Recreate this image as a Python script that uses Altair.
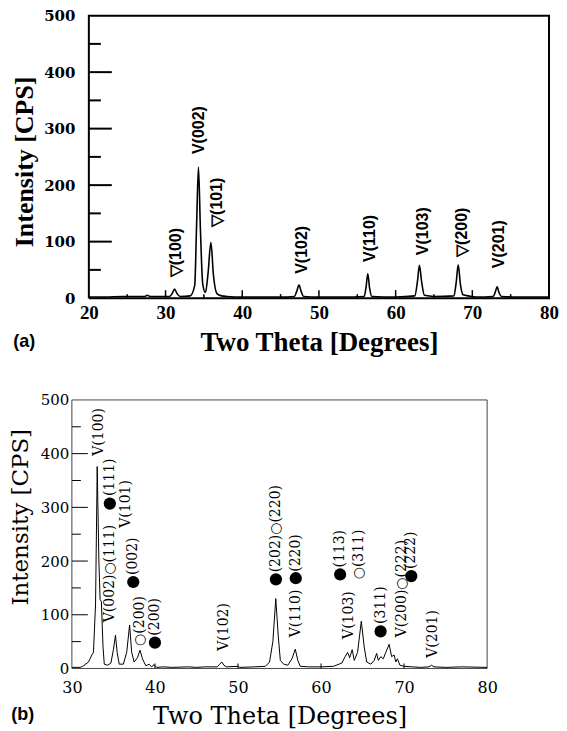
import altair as alt
import pandas as pd

# ---------------- Panel (a) ----------------
a_theta = [20, 22, 24.5, 27.3, 27.6, 28, 30.5, 30.9, 31.17, 31.5, 31.9, 33.2, 33.8, 34.05, 34.29,
           34.55, 34.85, 35.2, 35.55, 35.91, 36.25, 36.7, 37.3, 38, 40, 43, 45, 46.8, 47.1, 47.4,
           47.7, 48.0, 50, 53, 55.9, 56.15, 56.37, 56.6, 56.9, 60, 62.5, 62.85, 63.1, 63.4, 63.75,
           65, 67.6, 67.9, 68.16, 68.45, 68.8, 69.5, 70.5, 72.7, 73.0, 73.23, 73.5, 73.8, 76, 80]
a_int = [2, 2, 3, 3, 5, 3, 3, 9, 16, 8, 3, 4, 22, 130, 232,
         120, 25, 10, 45, 99, 40, 8, 4, 3, 2, 2, 2, 3, 12, 23,
         11, 3, 2, 2, 3, 20, 43, 18, 3, 2, 4, 30, 58, 28, 5,
         3, 4, 28, 59, 24, 6, 4, 2, 3, 11, 20, 9, 3, 2, 2]

a_lab_x = [31.35, 34.36, 36.68, 47.8, 56.6, 63.55, 68.6, 73.5]
a_lab_y = [37, 255, 126, 43, 64, 76, 73, 53]
a_lab_text = ["▽(100)", "V(002)", "▽(101)", "V(102)", "V(110)", "V(103)", "▽(200)", "V(201)"]

a_xdomain = [20, 80]
a_ydomain = [0, 500]
a_xtick_major = [30, 40, 50, 60, 70]
a_xtick_minor = [25, 35, 45, 55, 65, 75]
a_ytick_major = [100, 200, 300, 400]
a_ytick_minor = [50, 150, 250, 350, 450]
a_xlabels = [20, 30, 40, 50, 60, 70, 80]
a_ylabels = [0, 100, 200, 300, 400, 500]

# ---------------- Panel (b) ----------------
b_theta = [30, 31.0, 31.3, 32.0, 32.4, 32.6, 32.85, 33.05, 33.25, 33.4, 33.55, 33.75, 33.9, 34.3,
           34.7, 35.0, 35.25, 35.45, 35.7, 36.2, 36.6, 36.95, 37.2, 37.5, 37.9, 38.2, 38.5, 38.9,
           39.3, 39.6, 39.9, 40.2, 41, 42, 44, 45, 46, 47.5, 47.8, 48.05, 48.3, 48.6, 50, 50.2,
           52, 53.3, 53.8, 54.2, 54.55, 54.85, 55.1, 55.5, 56.0, 56.5, 56.9, 57.2, 57.5, 58.5,
           60, 61.5, 62.5, 62.9, 63.2, 63.45, 63.75, 64.0, 64.4, 64.85, 65.2, 65.5, 66.0, 66.4,
           66.7, 66.9, 67.2, 67.5, 67.8, 68.2, 68.5, 68.8, 69.0, 69.2, 69.5, 70, 71, 72, 73.0,
           73.3, 73.6, 75, 77, 80]
b_int = [2, 2, 4, 12, 25, 30, 120, 376, 200, 128, 125, 40, 8, 6,
         10, 35, 62, 30, 8, 8, 30, 81, 30, 12, 20, 34, 18, 5,
         8, 3, 7, 2, 3, 2, 3, 2, 3, 3, 8, 12, 6, 3, 4, 2,
         3, 4, 12, 50, 130, 60, 15, 8, 6, 18, 36, 15, 4, 3,
         3, 4, 10, 22, 30, 20, 35, 15, 30, 88, 40, 12, 8, 15,
         28, 15, 22, 18, 30, 45, 22, 25, 12, 18, 6, 4, 3, 2, 3,
         6, 3, 2, 3, 2]

b_lab_x = [33.26, 34.57, 34.57, 36.52, 37.39, 38.26, 40.0, 48.26, 54.57, 56.96, 56.96,
           62.3, 63.35, 64.57, 67.17, 69.78, 70.87, 73.48]
b_lab_y = [396, 86, 321, 262, 174, 42, 61, 33, 179, 58, 180,
           188, 55, 166, 83, 58, 185, 20]
b_lab_text = ["V(100)", "V(002)○(111)", "(111)", "V(101)", "(002)", "○(200)", "(200)", "V(102)",
              "(202)○(220)", "V(110)", "(220)", "(113)", "V(103)", "○(311)", "(311)",
              "V(200)○(222)", "(222)", "V(201)"]
b_dot_x = [34.57, 37.39, 40.0, 54.57, 56.96, 62.3, 67.17, 70.87]
b_dot_y = [307, 161, 48, 166, 168, 175, 69, 172]

b_xdomain = [30, 80]
b_ydomain = [0, 500]
b_xtick_major = [40, 50, 60, 70]
b_ytick_major = [100, 200, 300, 400]
b_ytick_minor = [50, 150, 250, 350, 450]
b_xlabels = [30, 40, 50, 60, 70, 80]
b_ylabels = [0, 100, 200, 300, 400, 500]


def tick_segments(vals, vertical, base, length):
    """Two end points per tick; ticks point inward from the frame."""
    rows = []
    for i, v in enumerate(vals):
        for k, off in enumerate([0.0, length]):
            if vertical:
                rows.append({"id": i, "k": k, "x": v, "y": base + off})
            else:
                rows.append({"id": i, "k": k, "x": base + off, "y": v})
    return pd.DataFrame(rows)


def seg_layer(df, xs, ys, width, color="black"):
    return alt.Chart(df).mark_line(color=color, strokeWidth=width, strokeCap="butt").encode(
        x=alt.X("x:Q", scale=xs), y=alt.Y("y:Q", scale=ys), detail="id:N", order="k:Q")


def frame_df(xd, yd):
    xs = [xd[0], xd[0], xd[1], xd[1], xd[0]]
    ys = [yd[0], yd[1], yd[1], yd[0], yd[0]]
    return pd.DataFrame({"id": [0] * 5, "k": list(range(5)), "x": xs, "y": ys})


# ---------------- build panel (a) ----------------
SHIFT = 17            # panel (a) frame sits 17 px right of panel (b)'s
A_W, A_H = 461, 283
xa = alt.Scale(domain=a_xdomain, nice=False, zero=False, range=[SHIFT, SHIFT + A_W])
ya = alt.Scale(domain=a_ydomain, nice=False)
ax_per_px = (a_xdomain[1] - a_xdomain[0]) / A_W
ay_per_px = (a_ydomain[1] - a_ydomain[0]) / A_H

a_df = pd.DataFrame({"tt": a_theta, "I": a_int})
a_lab = pd.DataFrame({"tt": a_lab_x, "I": a_lab_y, "t": a_lab_text})

a_line = alt.Chart(a_df).mark_line(color="black", strokeWidth=1.6, interpolate="monotone").encode(
    x=alt.X("tt:Q", scale=xa, axis=alt.Axis(
        values=a_xlabels, title="Two Theta [Degrees]", ticks=False, domain=False, grid=False,
        labelFlush=False, labelFont="Liberation Serif", labelFontWeight="bold", labelFontSize=19,
        labelColor="black", labelPadding=5, titleFont="Liberation Serif", titleFontWeight="bold",
        titleFontSize=27, titleColor="black", titlePadding=7)),
    y=alt.Y("I:Q", scale=ya, axis=alt.Axis(
        values=a_ylabels, title="Intensity [CPS]", ticks=False, domain=False, grid=False,
        offset=-SHIFT, labelFont="DejaVu Serif", labelFontWeight="bold", labelFontSize=15,
        labelColor="black", labelPadding=14, titleFont="Liberation Serif",
        titleFontWeight="bold", titleFontSize=26, titleColor="black", titlePadding=6.5,
        titleY=146)),
)
a_text = alt.Chart(a_lab).mark_text(angle=270, align="left", baseline="middle",
                                    font="Liberation Sans", fontWeight="bold", fontSize=16,
                                    color="black").encode(
    x=alt.X("tt:Q", scale=xa), y=alt.Y("I:Q", scale=ya), text="t:N")

panel_a = alt.layer(
    seg_layer(frame_df(a_xdomain, a_ydomain), xa, ya, 2),
    a_line,
    seg_layer(tick_segments(a_xtick_major, True, a_ydomain[0], 8 * ay_per_px), xa, ya, 1.5),
    seg_layer(tick_segments(a_xtick_minor, True, a_ydomain[0], 4 * ay_per_px), xa, ya, 1.5),
    seg_layer(tick_segments(a_ytick_major, False, a_xdomain[0], 23 * ax_per_px), xa, ya, 2),
    seg_layer(tick_segments(a_ytick_minor, False, a_xdomain[0], 12 * ax_per_px), xa, ya, 2),
    a_text,
).properties(
    width=A_W + SHIFT, height=A_H,
    view=alt.ViewBackground(strokeOpacity=0),
    title=alt.TitleParams("(a)", orient="bottom", anchor="start", frame="bounds",
                          font="Liberation Sans", fontWeight="bold", fontSize=18,
                          color="black", offset=-22, dx=2),
)

# ---------------- build panel (b) ----------------
B_W, B_H = 416, 269
xb = alt.Scale(domain=b_xdomain, nice=False, zero=False)
yb = alt.Scale(domain=b_ydomain, nice=False)
bx_per_px = (b_xdomain[1] - b_xdomain[0]) / B_W
by_per_px = (b_ydomain[1] - b_ydomain[0]) / B_H

b_df = pd.DataFrame({"tt": b_theta, "I": b_int})
b_lab = pd.DataFrame({"tt": b_lab_x, "I": b_lab_y, "t": b_lab_text})
b_dot = pd.DataFrame({"tt": b_dot_x, "I": b_dot_y})

b_line = alt.Chart(b_df).mark_line(color="black", strokeWidth=1).encode(
    x=alt.X("tt:Q", scale=xb, axis=alt.Axis(
        values=b_xlabels, title="Two Theta [Degrees]", ticks=False, domain=False, grid=False,
        labelFlush=False, labelFont="DejaVu Serif", labelFontSize=16, labelColor="black",
        labelPadding=11, titleFont="DejaVu Serif", titleFontSize=24, titleFontWeight="normal",
        titleColor="black", titlePadding=9)),
    y=alt.Y("I:Q", scale=yb, axis=alt.Axis(
        values=b_ylabels, title="Intensity [CPS]", ticks=False, domain=False, grid=False,
        labelFont="DejaVu Serif", labelFontSize=15, labelColor="black", labelPadding=3,
        titleFont="DejaVu Serif", titleFontSize=23, titleFontWeight="normal",
        titleColor="black", titlePadding=8, titleY=117)),
)
b_text = alt.Chart(b_lab).mark_text(angle=270, align="left", baseline="middle",
                                    font="DejaVu Serif", fontSize=14, color="black").encode(
    x=alt.X("tt:Q", scale=xb), y=alt.Y("I:Q", scale=yb), text="t:N")
b_dots = alt.Chart(b_dot).mark_circle(size=150, color="black", opacity=1).encode(
    x=alt.X("tt:Q", scale=xb), y=alt.Y("I:Q", scale=yb))

panel_b = alt.layer(
    seg_layer(frame_df(b_xdomain, b_ydomain), xb, yb, 1, "#444444"),
    b_line,
    seg_layer(tick_segments(b_xtick_major, True, b_ydomain[0], 5 * by_per_px), xb, yb, 1),
    seg_layer(tick_segments(b_ytick_major, False, b_xdomain[0], 16 * bx_per_px), xb, yb, 1),
    seg_layer(tick_segments(b_ytick_minor, False, b_xdomain[0], 9 * bx_per_px), xb, yb, 1),
    b_text,
    b_dots,
).properties(
    width=B_W, height=B_H,
    view=alt.ViewBackground(strokeOpacity=0),
    title=alt.TitleParams("(b)", orient="bottom", anchor="start", frame="bounds",
                          font="Liberation Sans", fontWeight="bold", fontSize=18,
                          color="black", offset=-22, dx=2),
)

chart = alt.concat(panel_a, panel_b, columns=1, align="none", spacing=38).properties(
    padding={"left": 1, "top": 0, "right": 0, "bottom": 0}
).configure(background="white")

chart.save("out.html", embed_options={"renderer": "svg", "actions": False})
